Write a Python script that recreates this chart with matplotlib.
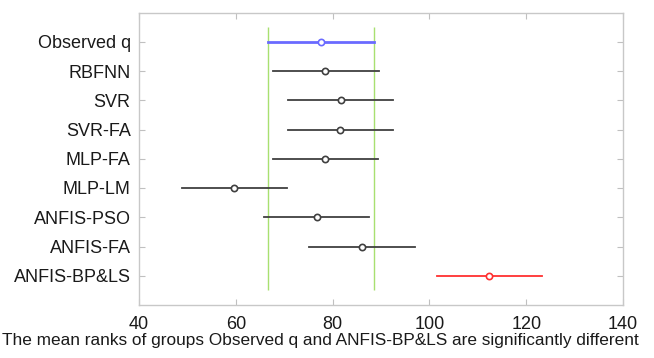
import matplotlib
matplotlib.use("Agg")
import matplotlib.pyplot as plt

groups = ["Observed q", "RBFNN", "SVR", "SVR-FA", "MLP-FA", "MLP-LM",
          "ANFIS-PSO", "ANFIS-FA", "ANFIS-BP&LS"]
mean_ranks = [77.6, 78.5, 81.7, 81.6, 78.5, 59.7, 76.7, 86.0, 112.4]
lower = [66.7, 67.6, 70.7, 70.7, 67.6, 48.8, 65.8, 75.2, 101.5]
upper = [88.6, 89.5, 92.5, 92.5, 89.4, 70.5, 87.6, 97.0, 123.3]
xticks = [40, 60, 80, 100, 120, 140]
xlabel = "The mean ranks of groups Observed q and ANFIS-BP&LS are significantly different"

plt.rcParams["font.family"] = ["Liberation Sans", "DejaVu Sans"]

fig = plt.figure(figsize=(6.54, 3.58), dpi=100)
ax = fig.add_axes([139 / 654, 1 - 305 / 358, (623 - 139) / 654, (305 - 12.5) / 358])

n = len(groups)
ypos = list(range(n, 0, -1))

ref_idx = 0
sig_idx = 8

# comparison interval of the reference group
ax.vlines([lower[ref_idx], upper[ref_idx]], 0.5, n + 0.5, color="#a8e070", lw=1.0, zorder=1)

for i, g in enumerate(groups):
    if i == ref_idx:
        c, lw = "#6a6aff", 2.0
    elif i == sig_idx:
        c, lw = "#ff3030", 1.3
    else:
        c, lw = "#404040", 1.3
    ax.plot([lower[i], upper[i]], [ypos[i], ypos[i]], color=c, lw=lw, zorder=2)
    ax.plot(mean_ranks[i], ypos[i], marker="o", ms=4.5, mfc="white", mec=c, mew=1.2, zorder=3)

ax.set_xlim(40, 140)
ax.set_ylim(0, n + 1)
ax.set_xticks(xticks)
ax.set_yticks(ypos)
ax.set_yticklabels(groups)
ax.tick_params(direction="in", length=4, color="#c0c0c0", labelsize=13, labelcolor="#1a1a1a",
               top=True, right=True, pad=6)
ax.tick_params(axis="x", pad=8)
for s in ax.spines.values():
    s.set_color("#c8c8c8")
    s.set_linewidth(1.0)
fig.text(320 / 654, 1 - 341 / 358, xlabel, fontsize=12.4, color="#1a1a1a",
         ha="center", va="center")

fig.savefig("out.png", dpi=100)
